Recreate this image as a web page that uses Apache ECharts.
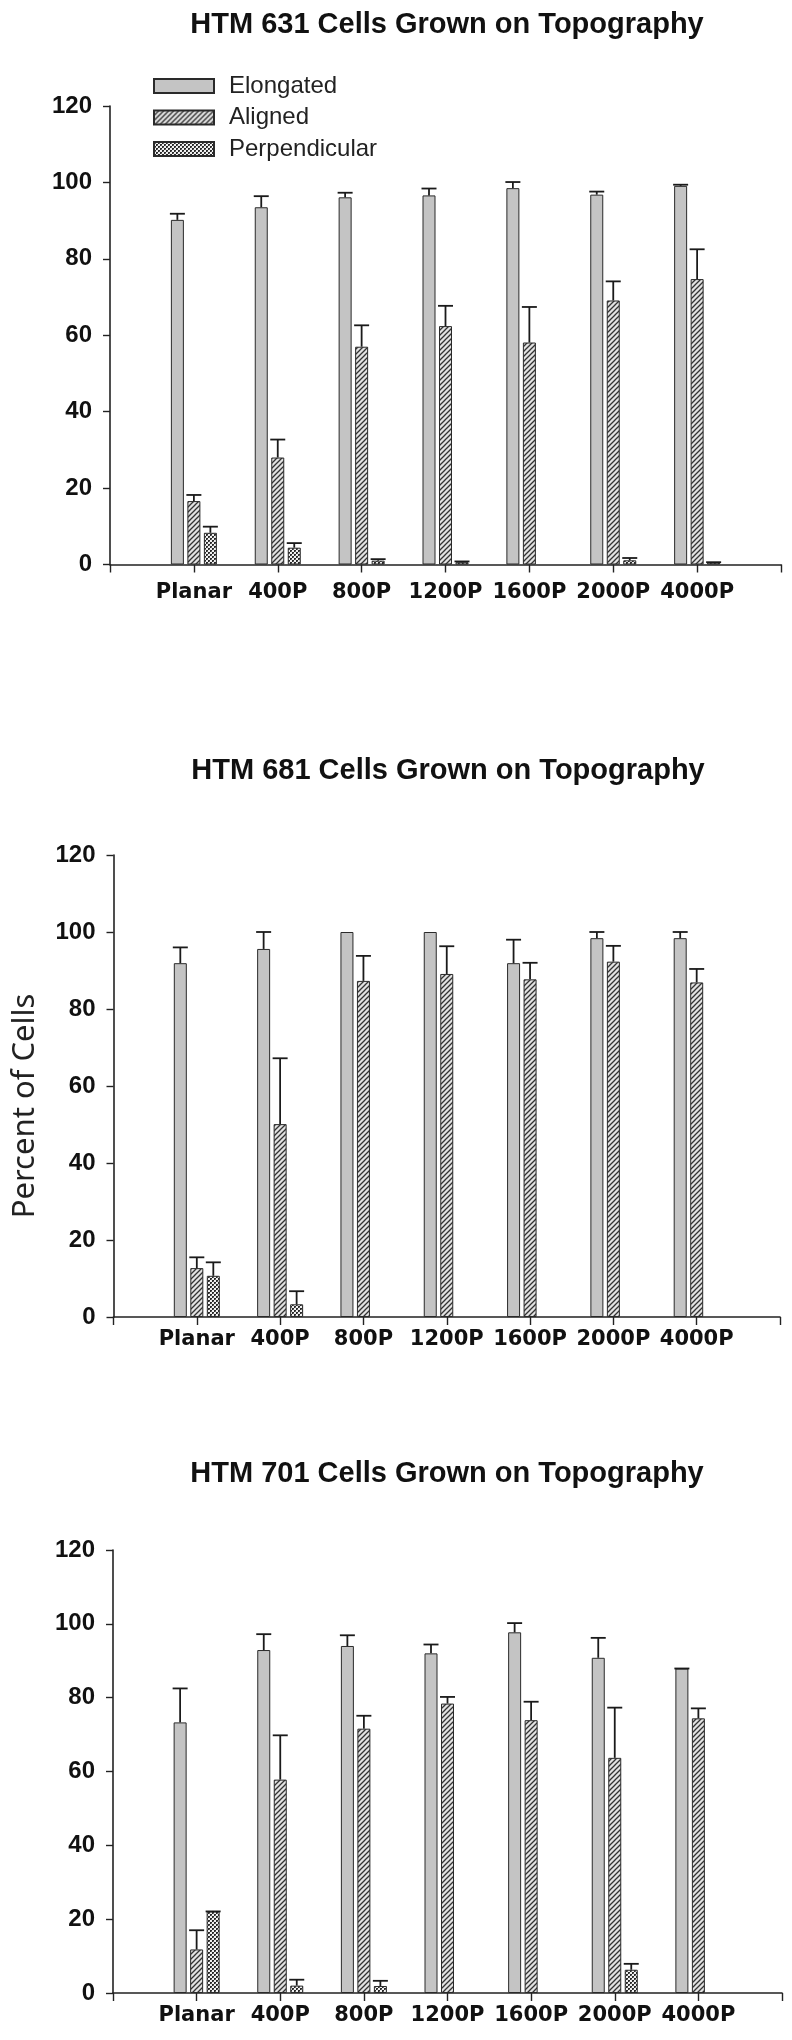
<!DOCTYPE html>
<html>
<head>
<meta charset="utf-8">
<script src="https://cdn.jsdelivr.net/npm/echarts@6/dist/echarts.min.js"></script>
<style>
html,body{margin:0;padding:0;background:#fff;}
#chart{width:792px;height:2040px;}
</style>
</head>
<body>
<div id="chart"></div>
<script>
// ---------- data ----------
const categories = ['', 'Planar', '400P', '800P', '1200P', '1600P', '2000P', '4000P', ''];
const seriesNames = ['Elongated', 'Aligned', 'Perpendicular'];
const yTicks = [0, 20, 40, 60, 80, 100, 120];

const titles = ['HTM 631 Cells Grown on Topography', 'HTM 681 Cells Grown on Topography', 'HTM 701 Cells Grown on Topography'];
const yAxisTitle = 'Percent of Cells';

// HTM 631
const htm631Elongated    = [90.2, 93.5, 96.1, 96.6, 98.5, 96.8, 99.1];
const htm631ElongatedErr = [1.6, 2.9, 1.2, 1.8, 1.6, 0.8, 0.3];
const htm631Aligned      = [16.6, 28.0, 57.0, 62.4, 58.1, 69.1, 74.7];
const htm631AlignedErr   = [1.6, 4.7, 5.6, 5.3, 9.3, 5.0, 7.8];
const htm631Perp         = [8.3, 4.4, 1.0, 0.6, null, 1.1, 0.5];
const htm631PerpErr      = [1.6, 1.2, 0.4, 0.2, null, 0.6, 0.1];

// HTM 681
const htm681Elongated    = [91.9, 95.6, 100, 100, 91.9, 98.4, 98.4];
const htm681ElongatedErr = [4.1, 4.4, null, null, 6.1, 1.6, 1.6];
const htm681Aligned      = [12.7, 50.1, 87.3, 89.1, 87.7, 92.3, 86.9];
const htm681AlignedErr   = [2.8, 17.1, 6.5, 7.2, 4.3, 4.1, 3.5];
const htm681Perp         = [10.7, 3.3, null, null, null, null, null];
const htm681PerpErr      = [3.5, 3.4, null, null, null, null, null];

// HTM 701
const htm701Elongated    = [73.3, 92.9, 94.0, 92.0, 97.7, 90.8, 87.9];
const htm701ElongatedErr = [9.2, 4.3, 2.9, 2.4, 2.5, 5.4, 0];
const htm701Aligned      = [11.8, 57.8, 71.6, 78.4, 73.9, 63.7, 74.4];
const htm701AlignedErr   = [5.2, 12.0, 3.5, 1.8, 5.0, 13.6, 2.7];
const htm701Perp         = [22.1, 2.0, 1.9, null, null, 6.3, null];
const htm701PerpErr      = [0, 1.6, 1.4, null, null, 1.6, null];

const panels = [
  { values: [htm631Elongated, htm631Aligned, htm631Perp], errors: [htm631ElongatedErr, htm631AlignedErr, htm631PerpErr] },
  { values: [htm681Elongated, htm681Aligned, htm681Perp], errors: [htm681ElongatedErr, htm681AlignedErr, htm681PerpErr] },
  { values: [htm701Elongated, htm701Aligned, htm701Perp], errors: [htm701ElongatedErr, htm701AlignedErr, htm701PerpErr] }
];

// ---------- styles ----------
function makeHatch() {
  const c = document.createElement('canvas');
  c.width = 5; c.height = 5;
  const g = c.getContext('2d');
  g.fillStyle = '#e2e2e2'; g.fillRect(0, 0, 5, 5);
  g.strokeStyle = '#333'; g.lineWidth = 1.3;
  g.beginPath();
  g.moveTo(-1, 6); g.lineTo(6, -1);
  g.moveTo(-1, 1); g.lineTo(1, -1);
  g.moveTo(4, 6); g.lineTo(6, 4);
  g.stroke();
  return c;
}
function makeCross() {
  const c = document.createElement('canvas');
  c.width = 4; c.height = 4;
  const g = c.getContext('2d');
  g.fillStyle = '#f0f0f0'; g.fillRect(0, 0, 4, 4);
  g.fillStyle = '#2a2a2a';
  g.fillRect(0, 0, 2, 2); g.fillRect(2, 2, 2, 2);
  g.fillStyle = '#6a6a6a';
  g.fillRect(1, 1, 1, 1); g.fillRect(3, 3, 1, 1);
  return c;
}
const fills = [
  '#c4c4c4',
  { image: makeHatch(), repeat: 'repeat' },
  { image: makeCross(), repeat: 'repeat' }
];

const BAR_W = 13;
const BAR_GAP = 3.5;
const CAP_HALF = 7.5;

const grids = [
  { left: 110, right: 11, top: 106, height: 458.5, labelMargin: 18 },
  { left: 113.5, right: 12, top: 855, height: 462, labelMargin: 12 },
  { left: 113, right: 10, top: 1550, height: 443, labelMargin: 12 }
];
const titlePos = [[447, 25], [448, 771], [447, 1474]];

const option = {
  animation: false,
  backgroundColor: '#fff',
  grid: grids.map(g => ({ left: g.left, right: g.right, top: g.top, height: g.height, containLabel: false })),
  legend: {
    data: seriesNames,
    orient: 'vertical',
    left: 148,
    top: 69,
    itemWidth: 60,
    itemHeight: 14,
    itemGap: 7.5,
    selectedMode: false,
    icon: 'rect',
    textStyle: { fontFamily: 'Liberation Sans, Arial', fontSize: 24, color: '#222', lineHeight: 24, padding: [0, 0, 0, 10] }
  },
  xAxis: grids.map((g, i) => ({
    type: 'category',
    gridIndex: i,
    data: categories,
    boundaryGap: false,
    axisLine: { lineStyle: { color: '#222', width: 1.6 } },
    axisTick: { show: true, length: 8, interval: 0, lineStyle: { color: '#222', width: 1.4 } },
    axisLabel: { interval: 0, margin: g.labelMargin, fontFamily: 'DejaVu Sans', fontWeight: 'bold', fontSize: 21, color: '#111' },
    splitLine: { show: false }
  })),
  yAxis: grids.map((g, i) => ({
    type: 'value',
    gridIndex: i,
    min: yTicks[0],
    max: yTicks[yTicks.length - 1],
    interval: yTicks[1] - yTicks[0],
    axisLine: { show: true, lineStyle: { color: '#222', width: 1.6 } },
    axisTick: { show: true, length: 7, lineStyle: { color: '#222', width: 1.4 } },
    axisLabel: { margin: 18, fontFamily: 'Liberation Sans, Arial', fontWeight: 'bold', fontSize: 24, color: '#111' },
    splitLine: { show: false }
  })),
  graphic: titles.map((t, i) => ({
    type: 'text',
    x: titlePos[i][0],
    y: titlePos[i][1],
    style: { text: t, font: 'bold 29px "Liberation Sans", Arial', fill: '#111', textAlign: 'center', textVerticalAlign: 'middle' }
  })).concat([{
    type: 'text',
    x: 25,
    y: 1106,
    rotation: Math.PI / 2,
    style: { text: yAxisTitle, font: '31px "Noto Sans"', fill: '#222', textAlign: 'center', textVerticalAlign: 'middle' }
  }]),
  series: []
};

panels.forEach((p, gi) => {
  seriesNames.forEach((name, si) => {
    option.series.push({
      type: 'bar',
      name: name,
      xAxisIndex: gi,
      yAxisIndex: gi,
      barWidth: BAR_W,
      barGap: (BAR_GAP / BAR_W * 100) + '%',
      data: [null].concat(p.values[si]).concat([null]),
      itemStyle: { color: fills[si], borderColor: '#2a2a2a', borderWidth: 1 },
      z: 2
    });
  });
  seriesNames.forEach((name, si) => {
    const errData = [];
    p.values[si].forEach((v, k) => {
      const e = p.errors[si][k];
      if (v !== null && e !== null) errData.push([k + 1, v, e]);
    });
    const offset = (si - 1) * (BAR_W + BAR_GAP);
    option.series.push({
      type: 'custom',
      name: name + ' error',
      xAxisIndex: gi,
      yAxisIndex: gi,
      data: errData,
      encode: { x: 0, y: 1 },
      z: 5,
      silent: true,
      renderItem: function (params, api) {
        const c = api.value(0), v = api.value(1), e = api.value(2);
        const p0 = api.coord([c, v]);
        const p1 = api.coord([c, v + e]);
        const x = p0[0] + offset;
        const st = { stroke: '#1a1a1a', lineWidth: 1.8 };
        return {
          type: 'group',
          children: [
            { type: 'line', shape: { x1: x, y1: p0[1], x2: x, y2: p1[1] }, style: st },
            { type: 'line', shape: { x1: x - CAP_HALF, y1: p1[1], x2: x + CAP_HALF, y2: p1[1] }, style: st }
          ]
        };
      }
    });
  });
});

const chart = echarts.init(document.getElementById('chart'), null, { renderer: 'canvas', width: 792, height: 2040 });
chart.setOption(option);
</script>
</body>
</html>
